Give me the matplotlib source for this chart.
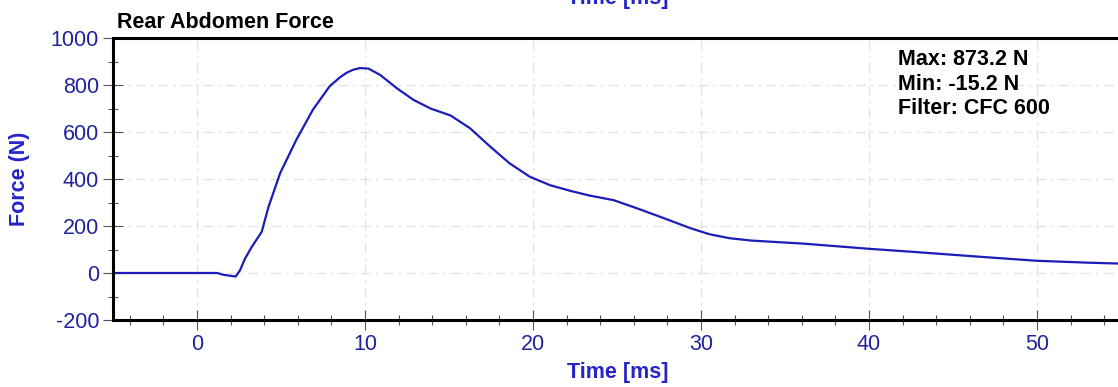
import matplotlib
matplotlib.use("Agg")
import matplotlib.pyplot as plt
from matplotlib.ticker import MultipleLocator

plt.rcParams['font.family'] = ['Liberation Sans', 'DejaVu Sans']
plt.rcParams['axes.unicode_minus'] = False

# Data
time_ms = [-5, 1.2, 1.6, 2.0, 2.3, 2.55, 2.85, 3.25, 3.85, 4.25, 4.95, 5.9, 6.9,
           7.9, 8.5, 8.9, 9.3, 9.7, 10.2, 10.9, 11.9, 12.9, 13.9, 15.1, 16.25,
           17.45, 18.6, 19.8, 21.0, 22.2, 23.4, 24.8, 26.2, 27.8, 29.4, 30.5,
           31.7, 33.0, 36.1, 40.0, 43.0, 47.0, 50.0, 53.0, 55.0]
force_n = [0, 0, -8, -12, -15, 10, 60, 110, 175, 280, 425, 565, 695,
           795, 832, 852, 865, 872, 870, 843, 786, 736, 700, 670, 616,
           538, 467, 410, 374, 350, 329, 310, 275, 233, 190, 165,
           148, 138, 125, 103, 88, 67, 52, 44, 40]

title = "Rear Abdomen Force"
xlabel = "Time [ms]"
ylabel = "Force (N)"
stats = ["Max: 873.2 N", "Min: -15.2 N", "Filter: CFC 600"]

W, H = 1118, 387
fig = plt.figure(figsize=(W / 100, H / 100), dpi=100)
ax = fig.add_axes([113 / W, (H - 320) / H, (1121 - 113) / W, 282 / H])

line_color = '#1c1cb8'
tick_color = '#22229e'
label_color = '#2424c8'

ax.plot(time_ms, force_n, color=line_color, lw=1.6, solid_joinstyle='round')
ax.set_xlim(-5, 55)
ax.set_ylim(-200, 1000)
ax.xaxis.set_major_locator(MultipleLocator(10))
ax.xaxis.set_minor_locator(MultipleLocator(2))
ax.yaxis.set_major_locator(MultipleLocator(200))
ax.yaxis.set_minor_locator(MultipleLocator(100))

ax.grid(True, which='major', color='#e2e2e2', lw=0.9, linestyle=(0, (8, 4, 2, 4)))
ax.set_axisbelow(True)

ax.tick_params(which='major', direction='inout', length=14, width=0.8,
               color='#555555', labelsize=15.5, labelcolor=tick_color, pad=3)
ax.tick_params(which='minor', direction='inout', length=7, width=0.8, color='#555555')

for s in ['left', 'bottom', 'top']:
    ax.spines[s].set_linewidth(2.2)
    ax.spines[s].set_color('black')
ax.spines['right'].set_visible(False)

ax.set_xlabel(xlabel, fontsize=15.5, fontweight='bold', color=label_color, va='baseline')
ax.xaxis.set_label_coords(0.5005, (320 - 378) / 282)
ax.set_ylabel(ylabel, fontsize=15.5, fontweight='bold', color=label_color, va='baseline')
ax.yaxis.set_label_coords((25 - 113) / 1008, 0.5)

fig.text(117 / W, (H - 28) / H, title, fontsize=15.5, fontweight='bold',
         color='black', ha='left', va='baseline')

# partially cut label at the very top of the image
fig.text(617.5 / W, (H - 4) / H, xlabel, fontsize=15.5, fontweight='bold',
         color=label_color, ha='center', va='baseline')

for i, s in enumerate(stats):
    fig.text(898 / W, (H - 65 - 24.5 * i) / H, s, fontsize=15.5, fontweight='bold',
             color='black', ha='left', va='baseline')

fig.savefig('out.png', dpi=100)
